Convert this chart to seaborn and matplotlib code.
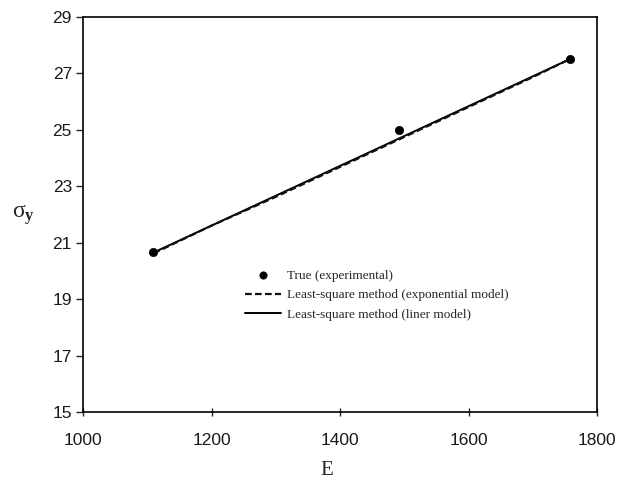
import matplotlib
matplotlib.use("Agg")
import matplotlib.pyplot as plt
import seaborn as sns
import pandas as pd

# Data
exp_E = [1109, 1492, 1758]
exp_sigma = [20.65, 25.0, 27.5]

lin_E = [1110, 1758]
lin_sigma = [20.65, 27.5]

expo_E = [1110, 1200, 1300, 1400, 1500, 1600, 1700, 1758]
expo_sigma = [20.62, 21.6, 22.62, 23.68, 24.74, 25.8, 26.86, 27.5]

x_ticks = [1000, 1200, 1400, 1600, 1800]
y_ticks = [15, 17, 19, 21, 23, 25, 27, 29]

sns.set_style("white")
plt.rcParams['mathtext.fontset'] = 'custom'
plt.rcParams['mathtext.rm'] = 'Liberation Serif'
plt.rcParams['mathtext.it'] = 'Liberation Serif:italic'
plt.rcParams['mathtext.bf'] = 'Liberation Serif:bold'

fig = plt.figure(figsize=(6.17, 4.86), dpi=100)
ax = fig.add_axes([83/617, 1 - 412/486, (597 - 83)/617, (412 - 16.7)/486])

df_pts = pd.DataFrame({"E": exp_E, "sigma": exp_sigma})
df_lin = pd.DataFrame({"E": lin_E, "sigma": lin_sigma})
df_exp = pd.DataFrame({"E": expo_E, "sigma": expo_sigma})

sns.lineplot(data=df_lin, x="E", y="sigma", ax=ax, color="black", lw=1.4,
             label="Least-square method (liner model)", zorder=2)
sns.lineplot(data=df_exp, x="E", y="sigma", ax=ax, color="#111111", lw=1.6,
             linestyle=(0, (3, 1.5)), label="Least-square method (exponential model)", zorder=3)
sns.scatterplot(data=df_pts, x="E", y="sigma", ax=ax, color="black", s=36,
                edgecolor="black", label="True (experimental)", zorder=4)

ax.set_xlim(1000, 1800)
ax.set_ylim(15, 29)
ax.set_xticks(x_ticks)
ax.set_yticks(y_ticks)

for sp in ax.spines.values():
    sp.set_visible(True)
    sp.set_color("black")
    sp.set_linewidth(1.2)

ax.tick_params(axis='y', direction='out', length=5, width=1, left=True, pad=3,
               labelsize=12.5)
ax.tick_params(axis='x', direction='inout', length=6, width=1, bottom=True, pad=12,
               labelsize=12.5)
for lab in ax.get_xticklabels() + ax.get_yticklabels():
    lab.set_fontfamily("Liberation Sans")
    lab.set_color("#1a1a1a")

ax.set_xlabel("E", fontfamily="Liberation Serif", fontsize=15)
ax.xaxis.set_label_coords(0.475, -0.125)
ax.set_ylabel(r"$\mathrm{σ}_\mathbf{y}$", fontsize=17, rotation=0, va="center")
ax.yaxis.set_label_coords(-0.115, 0.5)

handles, labels = ax.get_legend_handles_labels()
order = [labels.index("True (experimental)"),
         labels.index("Least-square method (exponential model)"),
         labels.index("Least-square method (liner model)")]
leg = ax.legend([handles[i] for i in order], [labels[i] for i in order],
                loc="upper left", bbox_to_anchor=(0.315, 0.36), frameon=False,
                prop={"family": "Liberation Serif", "size": 9.5},
                handlelength=2.7, handletextpad=0.5, labelspacing=0.55,
                borderpad=0, borderaxespad=0)
leg.legend_handles[0].set_sizes([28])

fig.savefig("out.png", dpi=100)
